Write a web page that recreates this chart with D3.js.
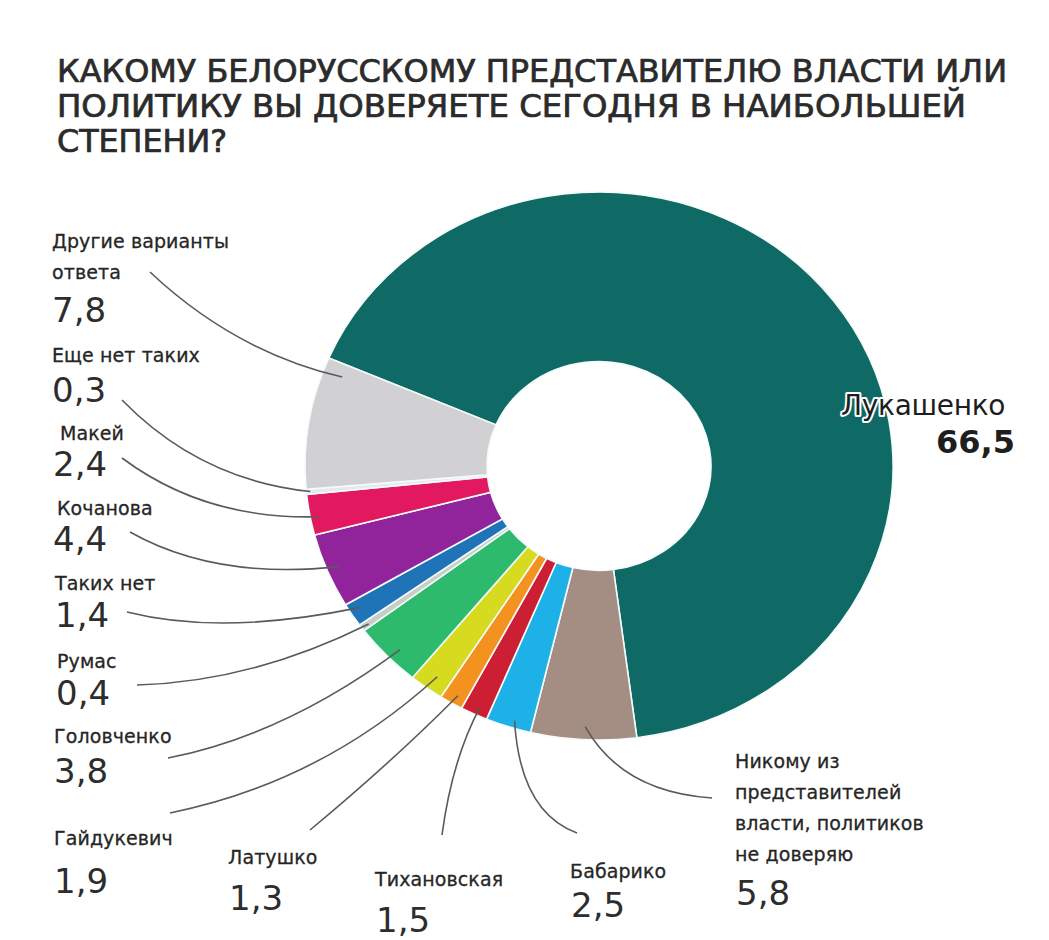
<!DOCTYPE html>
<html><head><meta charset="utf-8">
<script src="https://cdn.jsdelivr.net/npm/d3@7/dist/d3.min.js"></script>
<style>
html,body{margin:0;padding:0;background:#fff;}
svg{display:block;}
</style></head>
<body>
<script>
// ---- data ----
const titleLines = ["КАКОМУ БЕЛОРУССКОМУ ПРЕДСТАВИТЕЛЮ ВЛАСТИ ИЛИ", "ПОЛИТИКУ ВЫ ДОВЕРЯЕТЕ СЕГОДНЯ В НАИБОЛЬШЕЙ", "СТЕПЕНИ?"];
const categories = ["Лукашенко", "Никому из представителей власти, политиков не доверяю", "Бабарико", "Тихановская", "Латушко", "Гайдукевич", "Головченко", "Румас", "Таких нет", "Кочанова", "Макей", "Еще нет таких", "Другие варианты ответа"];
const values = [66.5, 5.8, 2.5, 1.5, 1.3, 1.9, 3.8, 0.4, 1.4, 4.4, 2.4, 0.3, 7.8];
const valueLabels = ["66,5", "5,8", "2,5", "1,5", "1,3", "1,9", "3,8", "0,4", "1,4", "4,4", "2,4", "0,3", "7,8"];
const nameLines = [["Лукашенко"], ["Никому из", "представителей", "власти, политиков", "не доверяю"], ["Бабарико"], ["Тихановская"], ["Латушко"], ["Гайдукевич"], ["Головченко"], ["Румас"], ["Таких нет"], ["Кочанова"], ["Макей"], ["Еще нет таких"], ["Другие варианты", "ответа"]];
const colors = ["#0f6a66", "#a48e83", "#1eb1e8", "#cd1f33", "#f3921f", "#d7db1f", "#2dba6d", "#c6cec6", "#1f73b7", "#92249b", "#e2195f", "#e8e8ea", "#d1d1d3"];

// ---- layout (positions, not data) ----
const W = 1049, H = 940;
const cx = 599, cy = 466, yScale = 0.932, rOuter = 294, rInner = 112;
const startDeg = -66.8;
const labelLayout = [
  {x: 841, y: 415, gap: 0, vx: 1015, vy: 453},
  {x: 735, y: 768, gap: 31, vx: 736, vy: 905},
  {x: 570, y: 878, gap: 0, vx: 571, vy: 917},
  {x: 375, y: 886, gap: 0, vx: 376, vy: 932},
  {x: 228, y: 864, gap: 0, vx: 229, vy: 910},
  {x: 54, y: 845, gap: 0, vx: 54, vy: 893},
  {x: 54, y: 743, gap: 0, vx: 54, vy: 783},
  {x: 57, y: 668, gap: 0, vx: 56, vy: 705},
  {x: 55, y: 590, gap: 0, vx: 55, vy: 627},
  {x: 57, y: 515, gap: 0, vx: 53, vy: 551},
  {x: 60, y: 440, gap: 0, vx: 53, vy: 476},
  {x: 52, y: 362, gap: 0, vx: 52, vy: 402},
  {x: 52, y: 248, gap: 31, vx: 52, vy: 322}
];
const leaders = [
  null,
  {sx: 712, sy: 798, c: [622, 792], t: 0.49, r: 280},
  {sx: 577, sy: 833, c: [520, 812], t: 0.41, r: 286},
  {sx: 442, sy: 835, c: [452, 760], t: 0.41, r: 286},
  {sx: 310, sy: 830, c: [392, 762], t: 0.41, r: 284},
  {sx: 170, sy: 813, c: [322, 782], t: 0.44, r: 278},
  {sx: 168, sy: 758, c: [285, 735], t: 0.43, r: 280},
  {sx: 137, sy: 685, c: [252, 682], t: 0.40, r: 286},
  {sx: 127, sy: 612, c: [222, 636], t: 0.62, r: 284},
  {sx: 130, sy: 532, c: [215, 580], t: 0.50, r: 282},
  {sx: 122, sy: 458, c: [205, 520], t: 0.42, r: 286},
  {sx: 122, sy: 400, c: [200, 480], t: 0.50, r: 290},
  {sx: 150, sy: 272, c: [235, 352], t: 0.90, r: 274}
];

const svg = d3.select("body").append("svg").attr("width", W).attr("height", H);

// title
const tWidths = [950, 909, 170];
svg.append("g").selectAll("text").data(titleLines).join("text")
  .attr("x", 57).attr("y", (d, i) => 82 + i * 35)
  .attr("textLength", (d, i) => tWidths[i]).attr("lengthAdjust", "spacingAndGlyphs")
  .attr("font-family", "'Liberation Sans Narrow','DejaVu Sans Condensed',sans-serif")
  .attr("font-size", 32).attr("fill", "#2b2b2b").attr("stroke", "#2b2b2b").attr("stroke-width", 0.7)
  .text(d => d);

// donut
const rad = Math.PI / 180;
const pie = d3.pie().sort(null).value(d => d)
  .startAngle(startDeg * rad).endAngle(startDeg * rad + 2 * Math.PI);
const arcs = pie(values);
const arc = d3.arc().innerRadius(rInner).outerRadius(rOuter);
const g = svg.append("g").attr("transform", `translate(${cx},${cy}) scale(1,${yScale})`);
g.selectAll("path").data(arcs).join("path")
  .attr("d", arc).attr("fill", (d, i) => colors[i])
  .attr("stroke", "#f4fbfb").attr("stroke-width", 1.6)
  .attr("vector-effect", "non-scaling-stroke");

// leader lines
function anchor(i) {
  const a = arcs[i];
  const L = leaders[i];
  const ang = a.startAngle + (a.endAngle - a.startAngle) * L.t;
  return [cx + L.r * Math.sin(ang), cy - yScale * L.r * Math.cos(ang)];
}
svg.append("g").selectAll("path").data(arcs.filter((d, i) => leaders[i]))
  .join("path")
  .attr("d", d => {
    const L = leaders[d.index];
    const p = anchor(d.index);
    const path = d3.path();
    path.moveTo(L.sx, L.sy);
    path.quadraticCurveTo(L.c[0], L.c[1], p[0], p[1]);
    return path.toString();
  })
  .attr("fill", "none").attr("stroke", "#5a5a5a").attr("stroke-width", 1.6);

// labels
const labelFont = "'DejaVu Sans',sans-serif";
const lg = svg.append("g");
categories.forEach((c, i) => {
  const L = labelLayout[i];
  if (i === 0) {
    lg.append("text").attr("x", L.x).attr("y", L.y)
      .attr("font-family", labelFont).attr("font-size", 28).attr("letter-spacing", -0.3)
      .attr("fill", "#1e1e1e").attr("stroke", "#ffffff").attr("stroke-width", 4)
      .attr("stroke-linejoin", "round").attr("paint-order", "stroke")
      .text(nameLines[i][0]);
    lg.append("text").attr("x", L.vx).attr("y", L.vy).attr("text-anchor", "end")
      .attr("font-family", labelFont).attr("font-size", 32).attr("font-weight", "bold")
      .attr("fill", "#1e1e1e").text(valueLabels[i]);
    return;
  }
  nameLines[i].forEach((line, j) => {
    lg.append("text").attr("x", L.x).attr("y", L.y + j * L.gap)
      .attr("font-family", labelFont).attr("font-size", 19).attr("letter-spacing", 0.1)
      .attr("fill", "#262626").attr("stroke", "#262626").attr("stroke-width", 0.3)
      .text(line);
  });
  lg.append("text").attr("x", L.vx).attr("y", L.vy)
    .attr("font-family", labelFont).attr("font-size", 34).attr("font-weight", "normal")
    .attr("fill", "#2d2d2d").text(valueLabels[i]);
});
</script>
</body></html>
